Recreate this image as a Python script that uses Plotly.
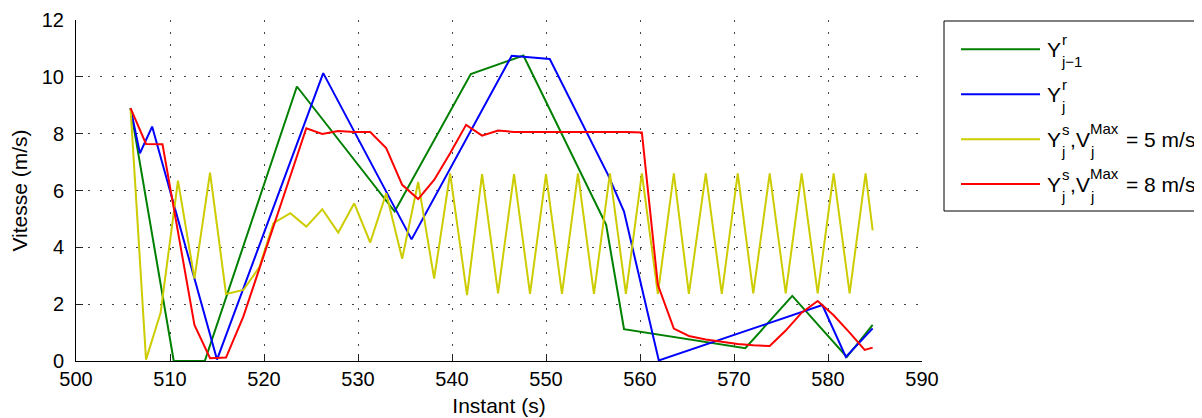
import plotly.graph_objects as go

# ---------------- data ----------------
# Y^r_{j-1}  (green)
t_prev = [505.8, 510.4, 513.7, 523.5, 533.9, 542.0, 547.6, 556.4, 558.3, 571.2, 576.2, 582.0, 584.75]
v_prev = [8.9, 0.0, 0.0, 9.66, 5.26, 10.1, 10.75, 4.79, 1.12, 0.45, 2.29, 0.14, 1.27]

# Y^r_j  (blue)
t_cur = [505.8, 506.8, 508.1, 515.0, 526.3, 535.7, 546.35, 550.4, 556.6, 558.3, 562.0, 579.4, 581.9, 584.75]
v_cur = [8.9, 7.31, 8.25, 0.05, 10.13, 4.28, 10.74, 10.63, 6.55, 5.26, 0.02, 1.97, 0.14, 1.15]

# Y^s_j, Vmax = 5 m/s  (yellow)
t_s5 = [505.8, 507.45, 509.0, 510.85, 512.6, 514.26, 515.96, 517.8, 519.5, 521.0,
        522.8, 524.5, 526.2, 527.9, 529.6, 531.3, 533.0, 534.7, 536.4, 538.1,
        539.8, 541.6, 543.2, 544.9, 546.6, 548.3, 550.0, 551.7, 553.4, 555.1,
        556.8, 558.5, 560.2, 561.9, 563.6, 565.2, 567.0, 568.7, 570.4, 572.05,
        573.8, 575.5, 577.2, 578.9, 580.6, 582.3, 584.0, 584.75]
v_s5 = [8.9, 0.05, 1.7, 6.35, 2.9, 6.63, 2.36, 2.5, 3.3, 4.85,
        5.2, 4.73, 5.34, 4.52, 5.55, 4.17, 5.9, 3.6, 6.3, 2.9,
        6.6, 2.32, 6.58, 2.38, 6.58, 2.36, 6.58, 2.36, 6.6, 2.36,
        6.6, 2.36, 6.6, 2.36, 6.6, 2.36, 6.6, 2.36, 6.6, 2.38,
        6.6, 2.38, 6.6, 2.38, 6.6, 2.38, 6.6, 4.6]

# Y^s_j, Vmax = 8 m/s  (red)
t_s8 = [505.8, 507.45, 509.2, 512.6, 514.26, 515.96, 517.8, 524.5, 526.2, 527.9,
        529.6, 531.3, 533.0, 534.7, 536.4, 538.1, 539.8, 541.5, 543.2, 544.9,
        546.6, 548.3, 550.0, 551.7, 553.4, 555.1, 556.8, 558.5, 560.2, 561.9,
        563.6, 565.2, 567.0, 568.7, 570.4, 572.05, 573.8, 575.5, 577.2, 578.9,
        580.6, 582.3, 583.9, 584.75]
v_s8 = [8.9, 7.64, 7.63, 1.27, 0.1, 0.12, 1.56, 8.19, 7.99, 8.09,
        8.06, 8.06, 7.49, 6.2, 5.7, 6.37, 7.31, 8.31, 7.93, 8.11,
        8.06, 8.06, 8.07, 8.06, 8.06, 8.07, 8.06, 8.06, 8.04, 2.68,
        1.14, 0.88, 0.76, 0.68, 0.6, 0.55, 0.53, 1.07, 1.7, 2.11,
        1.61, 1.0, 0.39, 0.47]

x_ticks = [500, 510, 520, 530, 540, 550, 560, 570, 580, 590]
y_ticks = [0, 2, 4, 6, 8, 10, 12]

series = [
    ("Y^r_{j-1}", t_prev, v_prev, "#008000"),
    ("Y^r_j", t_cur, v_cur, "#0000FF"),
    ("Y^s_j, V^Max_j = 5 m/s", t_s5, v_s5, "#CCCC00"),
    ("Y^s_j, V^Max_j = 8 m/s", t_s8, v_s8, "#FF0000"),
]

# ---------------- layout geometry (screen pixels) ----------------
SCR_W, SCR_H = 1202, 418
OFF = 8                      # default page margin of the html body
W, H = SCR_W - OFF, SCR_H - OFF
L, R, T, B = 76, 922, 20, 361   # plot area in screen pixels
FONT = "Liberation Sans, Arial, Helvetica, sans-serif"


def px(x):
    return (x - L) / (R - L)


def py(y):
    return (B - y) / (B - T)


fig = go.Figure()
for name, t, v, col in series:
    fig.add_trace(go.Scatter(x=t, y=v, mode="lines", name=name,
                             line=dict(color=col, width=2),
                             showlegend=False, cliponaxis=False))

grid = dict(showgrid=True, gridcolor="#444444", gridwidth=1, griddash="2px,10px")
fig.update_layout(
    width=W, height=H,
    margin=dict(l=L - OFF, r=SCR_W - R, t=T - OFF, b=SCR_H - B, autoexpand=False),
    plot_bgcolor="white", paper_bgcolor="white",
    font=dict(family=FONT, size=20, color="black"),
    xaxis=dict(range=[500, 590], tickvals=x_ticks, ticktext=[str(v) for v in x_ticks],
               ticks="inside", ticklen=7, tickcolor="#222", showline=True,
               linecolor="black", linewidth=1, zeroline=False,
               tickfont=dict(size=20),
               title=dict(text="Instant (s)", standoff=9, font=dict(size=21)),
               automargin=False, **grid),
    yaxis=dict(range=[0, 12], tickvals=y_ticks, ticktext=[str(v) for v in y_ticks],
               ticks="inside", ticklen=7, tickcolor="#222", showline=True,
               linecolor="black", linewidth=1, zeroline=False,
               ticklabelstandoff=7, tickfont=dict(size=20),
               title=dict(text="Vitesse (m/s)", standoff=10, font=dict(size=21)),
               automargin=False, **grid),
)

# ---------------- hand-drawn legend (MATLAB style, stacked scripts) ----------------
shapes = [dict(type="rect", xref="paper", yref="paper",
               x0=px(944), x1=px(1230), y0=py(211), y1=py(21),
               line=dict(color="black", width=1), fillcolor="white", layer="above")]
ann = []


def txt(s, x, y, size):
    ann.append(dict(text=s, x=px(x), y=py(y), xref="paper", yref="paper",
                    xanchor="left", yanchor="middle", showarrow=False,
                    borderpad=0, font=dict(size=size, family=FONT, color="black")))


rows = [49.3, 94.3, 139.3, 184.0]
for (name, t, v, col), yc in zip(series, rows):
    shapes.append(dict(type="line", xref="paper", yref="paper",
                       x0=px(961), x1=px(1040), y0=py(yc), y1=py(yc),
                       line=dict(color=col, width=2), layer="above"))

SUP, SUB = -10, 12
# item 1
txt("Y", 1046, rows[0], 21); txt("r", 1061, rows[0] + SUP, 15); txt("j−1", 1060, rows[0] + SUB, 15)
# item 2
txt("Y", 1046, rows[1], 21); txt("r", 1061, rows[1] + SUP, 15); txt("j", 1060, rows[1] + SUB, 15)
# items 3, 4
for yc, val in ((rows[2], "5"), (rows[3], "8")):
    txt("Y", 1046, yc, 21); txt("s", 1061, yc + SUP, 15); txt("j", 1060, yc + SUB, 15)
    txt(",", 1069, yc, 21)
    txt("V", 1075, yc, 21); txt("Max", 1089, yc + SUP - 1, 15); txt("j", 1089, yc + SUB, 15)
    txt("= " + val + " m/s", 1125, yc, 21)

fig.update_layout(shapes=shapes, annotations=ann)
fig.write_html("out.html")
